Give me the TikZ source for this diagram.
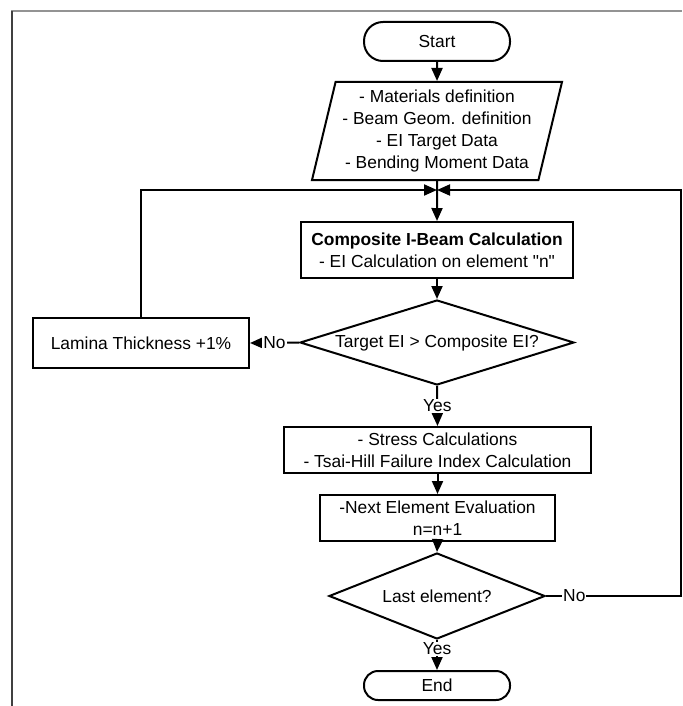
\documentclass[tikz,border=0pt]{standalone}
\usepackage{fontspec}
\setmainfont{Liberation Sans}
\usetikzlibrary{shapes.geometric,arrows.meta}
\begin{document}
\begin{tikzpicture}[x=1pt,y=-1pt,
  font=\fontsize{17.4}{22}\selectfont,
  line width=2pt,
  box/.style={draw, rectangle, inner sep=0pt, align=center},
  term/.style={draw, rectangle, inner sep=0pt, minimum width=146pt},
  dec/.style={draw, diamond, inner sep=0pt, align=center},
  io/.style={draw, trapezium, trapezium left angle=74, trapezium right angle=106,
    trapezium stretches body, inner sep=0pt, align=center},
  arr/.style={-{Triangle[length=13pt,width=11pt]}},
  lbl/.style={fill=white, inner sep=1pt},
]
\useasboundingbox (0,0) rectangle (682,706);
% page frame
\draw[line width=2pt, gray!85] (11,11) -- (682,11);
\draw[line width=2pt, black!75] (12,11) -- (12,706);

% main column
\node[term, minimum height=39pt, rounded corners=19pt] (start) at (437,41.5) {Start};
\node[io, minimum width=250pt, minimum height=98pt] (inp) at (437,131)
  {- Materials definition\\- Beam Geom. definition\\- EI Target Data\\- Bending Moment Data};
\coordinate (merge) at (437,190);
\node[box, minimum width=272pt, minimum height=56pt] (comp) at (437,250)
  {\textbf{Composite I-Beam Calculation}\\- EI Calculation on element \textquotedbl n\textquotedbl};
\node[dec, aspect=3.22, minimum width=274pt, minimum height=85pt] (dec1) at (437,342.5)
  {Target EI > Composite EI?};
\node[box, minimum width=216pt, minimum height=50pt] (lam) at (141,343)
  {Lamina Thickness +1\%};
\node[box, minimum width=307pt, minimum height=46pt] (stress) at (437.5,450)
  {- Stress Calculations\\- Tsai-Hill Failure Index Calculation};
\node[box, minimum width=235pt, minimum height=46pt] (next) at (437.5,518)
  {-Next Element Evaluation\\n=n+1};
\node[dec, aspect=2.51, minimum width=216pt, minimum height=86pt] (dec2) at (437,596)
  {Last element?};
\node[term, minimum height=29pt, rounded corners=14pt] (endn) at (437,685.5) {End};

% loop corners
\coordinate (lup) at (141,190);
\coordinate (rdn) at (681,596);
\coordinate (rup) at (681,190);

% connectors
\draw[arr] (start.south) -- (inp.north);
\draw[arr] (inp.south) -- (comp.north);
\draw[arr] (comp.south) -- (dec1.north);
\draw[arr] (dec1.west) -- node[lbl] {No} (lam.east);
\draw[arr] (lam.north) -- (lup) -- (merge);
\draw[arr] (dec1.south) -- node[lbl] {Yes} (stress.north);
\draw[arr] (stress.south) -- (next.north);
\draw[arr] (next.south) -- (dec2.north);
\draw[arr] (dec2.east) -- node[lbl, pos=0.21] {No} (rdn) -- (rup) -- (merge);
\draw[arr] (dec2.south) -- node[lbl, pos=0.3] {Yes} (endn.north);
\end{tikzpicture}
\end{document}
